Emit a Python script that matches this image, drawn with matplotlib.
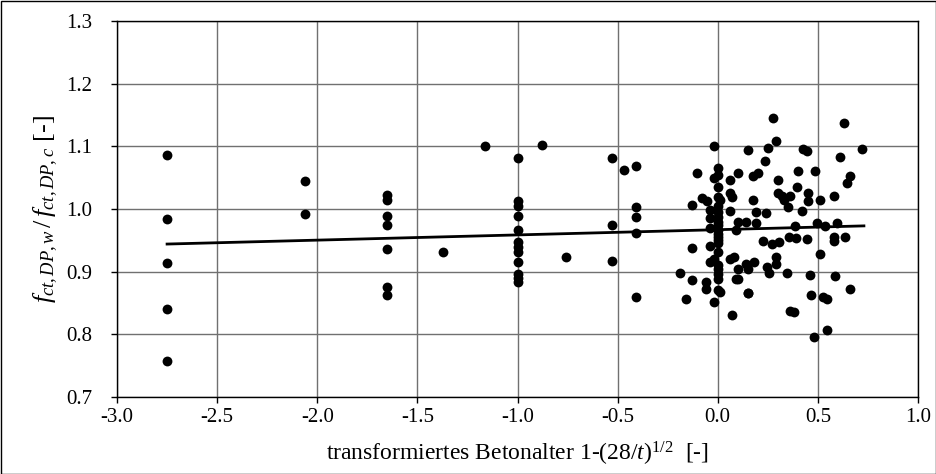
import numpy as np
import matplotlib
matplotlib.use("Agg")
import matplotlib.pyplot as plt
from matplotlib.patches import Rectangle

plt.rcParams['font.family'] = ['Liberation Serif', 'DejaVu Serif']
plt.rcParams['mathtext.fontset'] = 'custom'
plt.rcParams['mathtext.rm'] = 'Liberation Serif'
plt.rcParams['mathtext.it'] = 'Liberation Serif:italic'

# transformed concrete age and strength ratio, grouped by test series
x_old = [-2.75] * 5 + [-2.06] * 2 + [-1.65] * 7 + [-1.37, -1.16] + [-1.0] * 12 + \
        [-0.88, -0.76, -0.53, -0.53, -0.53, -0.47] + [-0.41] * 5
y_old = [1.086, 0.984, 0.914, 0.841, 0.757,
         1.045, 0.992,
         1.022, 1.015, 0.989, 0.975, 0.936, 0.876, 0.862,
         0.932, 1.100,
         1.081, 1.012, 1.005, 0.989, 0.967, 0.948, 0.940, 0.932, 0.915, 0.897, 0.890, 0.884,
         1.102, 0.923, 1.081, 0.975, 0.917, 1.062,
         1.068, 1.004, 0.988, 0.961, 0.859]

x_young = [-0.19, -0.16, -0.13, -0.13, -0.13, -0.105, -0.08, -0.055, -0.06, -0.06,
           -0.04, -0.04, -0.04, -0.04, -0.04, -0.02, -0.02, -0.02, -0.02,
           0.0, 0.0, 0.0, 0.0, 0.01, 0.0, 0.0, 0.0, 0.0, 0.0, 0.0, 0.0, 0.0, 0.0,
           0.0, 0.01, 0.0, 0.0, 0.0, 0.0, 0.0, 0.0,
           0.06, 0.06, 0.07, 0.06, 0.06, 0.08, 0.07,
           0.10, 0.10, 0.14, 0.09, 0.10, 0.15, 0.09, 0.10, 0.15, 0.15, 0.14]
y_young = [0.898, 0.856, 1.006, 0.937, 0.887, 1.058, 1.017, 1.013, 0.884, 0.872,
           0.999, 0.985, 0.969, 0.941, 0.916, 1.100, 1.049, 0.921, 0.852,
           1.065, 1.054, 1.035, 1.019, 1.014, 0.988, 0.975, 0.967, 0.956, 0.945,
           0.932, 0.905, 0.897, 0.889, 0.871, 0.867, 1.005, 0.995, 0.980, 0.960,
           0.950, 0.910,
           1.046, 1.026, 1.019, 0.997, 0.921, 0.924, 0.831,
           1.057, 0.980, 0.980, 0.967, 0.904, 0.904, 0.888, 0.888, 0.866, 1.094, 0.913]

x_late = [0.277, 0.29, 0.25, 0.424, 0.444, 0.236, 0.174, 0.2, 0.30, 0.40, 0.486, 0.394,
          0.30, 0.32, 0.33, 0.36, 0.45, 0.45, 0.35, 0.174, 0.51, 0.19, 0.24, 0.42,
          0.19, 0.386, 0.494, 0.536, 0.224, 0.272, 0.307, 0.357, 0.39, 0.444,
          0.51, 0.18, 0.244, 0.257, 0.29, 0.29, 0.344, 0.46, 0.152, 0.464, 0.524,
          0.547, 0.36, 0.382, 0.48, 0.547,
          0.632, 0.722, 0.61, 0.66, 0.644, 0.58, 0.597, 0.58, 0.58, 0.635, 0.585, 0.66]
y_late = [1.145, 1.109, 1.098, 1.095, 1.093, 1.076, 1.052, 1.058, 1.046, 1.061, 1.061, 1.035,
          1.025, 1.021, 1.014, 1.021, 1.025, 1.013, 1.004, 1.015, 1.015, 0.996, 0.993, 0.997,
          0.978, 0.973, 0.977, 0.973, 0.949, 0.944, 0.947, 0.956, 0.953, 0.952,
          0.928, 0.916, 0.907, 0.898, 0.923, 0.912, 0.898, 0.895, 0.866, 0.863, 0.860,
          0.856, 0.838, 0.835, 0.795, 0.807,
          1.138, 1.095, 1.083, 1.053, 1.042, 1.020, 0.977, 0.956, 0.949, 0.956, 0.893, 0.873]

x_all = np.array(x_old + x_young + x_late)
y_all = np.array(y_old + y_young + y_late)

# linear trend
slope = 0.00833
intercept = 0.967
x_trend = np.array([-2.75, 0.73])

fig = plt.figure(figsize=(9.37, 4.74), dpi=100)
ax = fig.add_axes([0.1249, 0.1624, 0.8548, 0.7933])

ax.scatter(x_all, y_all, s=50, color='black', zorder=3, linewidths=0)
ax.plot(x_trend, slope * x_trend + intercept, color='black', lw=2, zorder=4)

ax.set_xlim(-3.0, 1.0)
ax.set_ylim(0.7, 1.3)
ax.set_xticks(np.arange(-3.0, 1.01, 0.5))
ax.set_yticks(np.arange(0.7, 1.31, 0.1))
ax.set_xticklabels([f"{v:.1f}" for v in np.arange(-3.0, 1.01, 0.5)])
ax.set_yticklabels([f"{v:.1f}" for v in np.arange(0.7, 1.31, 0.1)])
ax.tick_params(labelsize=15, length=4, width=1, color='black', direction='out')
ax.tick_params(axis='y', pad=14)
ax.tick_params(axis='x', pad=4)
ax.grid(True, color='#707070', lw=1)
ax.set_axisbelow(True)
for s in ax.spines.values():
    s.set_linewidth(1)
    s.set_color('black')

ax.set_xlabel(r"transformiertes Betonalter 1-(28/$t$)$^{1/2}$  [-]", fontsize=17, labelpad=9)
ax.set_ylabel(r"$f_{ct,DP,w}\,/\,f_{ct,DP,c}$ [-]", fontsize=19, labelpad=4)

# frame round the whole figure
fig.patches.append(Rectangle((0.001, 0.001), 0.998, 0.997, transform=fig.transFigure,
                             fill=False, edgecolor='black', lw=1))

fig.savefig("out.png", dpi=100)
